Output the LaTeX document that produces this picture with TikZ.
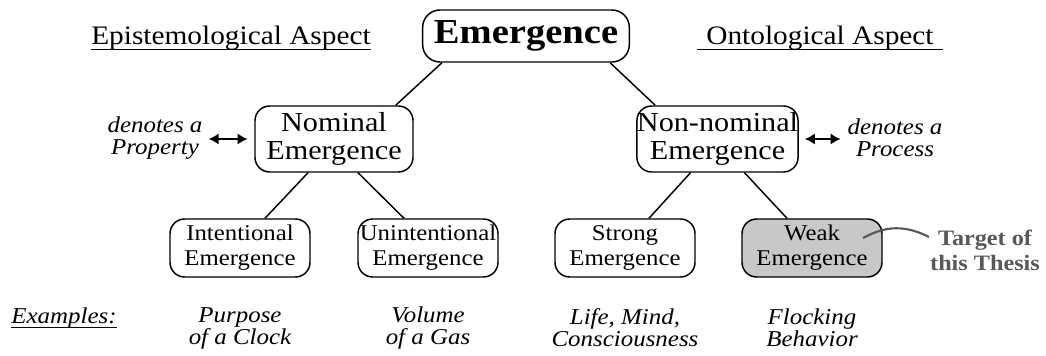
\documentclass[tikz,border=0pt]{standalone}
\usepackage{fontspec}
\setmainfont{Liberation Serif}[FakeStretch=1.1]
\usetikzlibrary{calc,arrows.meta}
\definecolor{thesisgray}{RGB}{88,88,88}
\definecolor{weakfill}{RGB}{200,200,200}
\begin{document}
\begin{tikzpicture}[x=0.75pt,y=-0.75pt,
  box/.style={draw,line width=1.1pt,rounded corners=11pt,align=center,inner sep=0pt},
  topbox/.style={box,rounded corners=13pt,minimum width=155pt,minimum height=39pt,
    font=\fontsize{26.3}{28}\selectfont\bfseries},
  midbox/.style={box,minimum width=118.5pt,minimum height=49.5pt,
    font=\fontsize{20.6}{21}\selectfont},
  lowbox/.style={box,minimum width=105pt,minimum height=43.5pt,
    font=\fontsize{16.9}{18.75}\selectfont},
  heading/.style={inner sep=0pt,font=\fontsize{20}{24}\selectfont},
  note/.style={inner sep=0pt,align=center,font=\fontsize{17}{16.5}\selectfont\itshape},
  target/.style={inner sep=0pt,align=center,text=thesisgray,
    font=\fontsize{16.5}{18.75}\selectfont\bfseries},
  link/.style={line width=1.1pt},
  uline/.style={line width=0.8pt},
  dbl/.style={line width=2.2pt,{Latex[length=7.5pt,width=8.5pt]}-{Latex[length=7.5pt,width=8.5pt]},
    shorten <=4.5pt,shorten >=5pt},
]
\useasboundingbox (0,0) rectangle (1046,356);

% headings
\node[heading,anchor=base] (epi) at (231,45) {Epistemological Aspect};
\draw[uline] ($(epi.base west)+(0,4.5)$) -- ($(epi.base east)+(0,4.5)$);
\node[heading,anchor=base,inner xsep=7pt] (ont) at (820,45) {Ontological Aspect};
\draw[uline] ($(ont.base west)+(0,4.5)$) -- ($(ont.base east)+(0,4.5)$);

% tree of boxes
\node[topbox] (em) at (526,36) {Emergence};
\node[midbox] (nom) at (334,139) {Nominal\\Emergence};
\node[midbox] (non) at (717.5,139) {Non-nominal\\Emergence};
\node[lowbox] (int) at (240,248) {Intentional\\Emergence};
\node[lowbox] (unint) at (428,248) {Unintentional\\Emergence};
\node[lowbox] (strong) at (625,248) {Strong\\Emergence};
\node[lowbox,fill=weakfill] (weak) at (812,248) {Weak\\Emergence};

\draw[link] ($(em.south west)+(20,0)$) -- ($(nom.north east)+(-18,0)$);
\draw[link] ($(em.south east)+(-20,0)$) -- ($(non.north west)+(19,0)$);
\draw[link] ($(nom.south)+(-26,0)$) -- ($(int.north)+(25,0)$);
\draw[link] ($(nom.south)+(24,0)$) -- ($(unint.north)+(-24,0)$);
\draw[link] ($(non.south)+(-27,0)$) -- ($(strong.north)+(24,0)$);
\draw[link] ($(non.south)+(27,0)$) -- ($(weak.north)+(-25,0)$);

% side notes
\node[note] (prop) at (155,138) {denotes a\\Property};
\node[note] (proc) at (895,138) {denotes a\\Process};
\draw[dbl] (prop.east |- nom.west) -- (nom.west);
\draw[dbl] (non.east) -- (proc.west |- non.east);

% target marker
\node[target] (tgt) at (985,250) {Target of\\this Thesis};
\coordinate (tgtstart) at (863,238);
\draw[thesisgray,line width=1.6pt] (tgtstart) .. controls (880,229) and (900,222) .. ($(tgt.west)+(-1,-13)$);

% examples row
\node[note,anchor=base] (ex) at (64,323) {Examples:};
\draw[uline] ($(ex.base west)+(0,4.5)$) -- ($(ex.base east)+(0,4.5)$);
\node[note] (exint) at (240,328) {Purpose\\of a Clock};
\node[note] (exunint) at (428,328) {Volume\\of a Gas};
\node[note] (exstrong) at (625,328) {Life, Mind,\\Consciousness};
\node[note] (exweak) at (812,328) {Flocking\\Behavior};
\end{tikzpicture}
\end{document}
